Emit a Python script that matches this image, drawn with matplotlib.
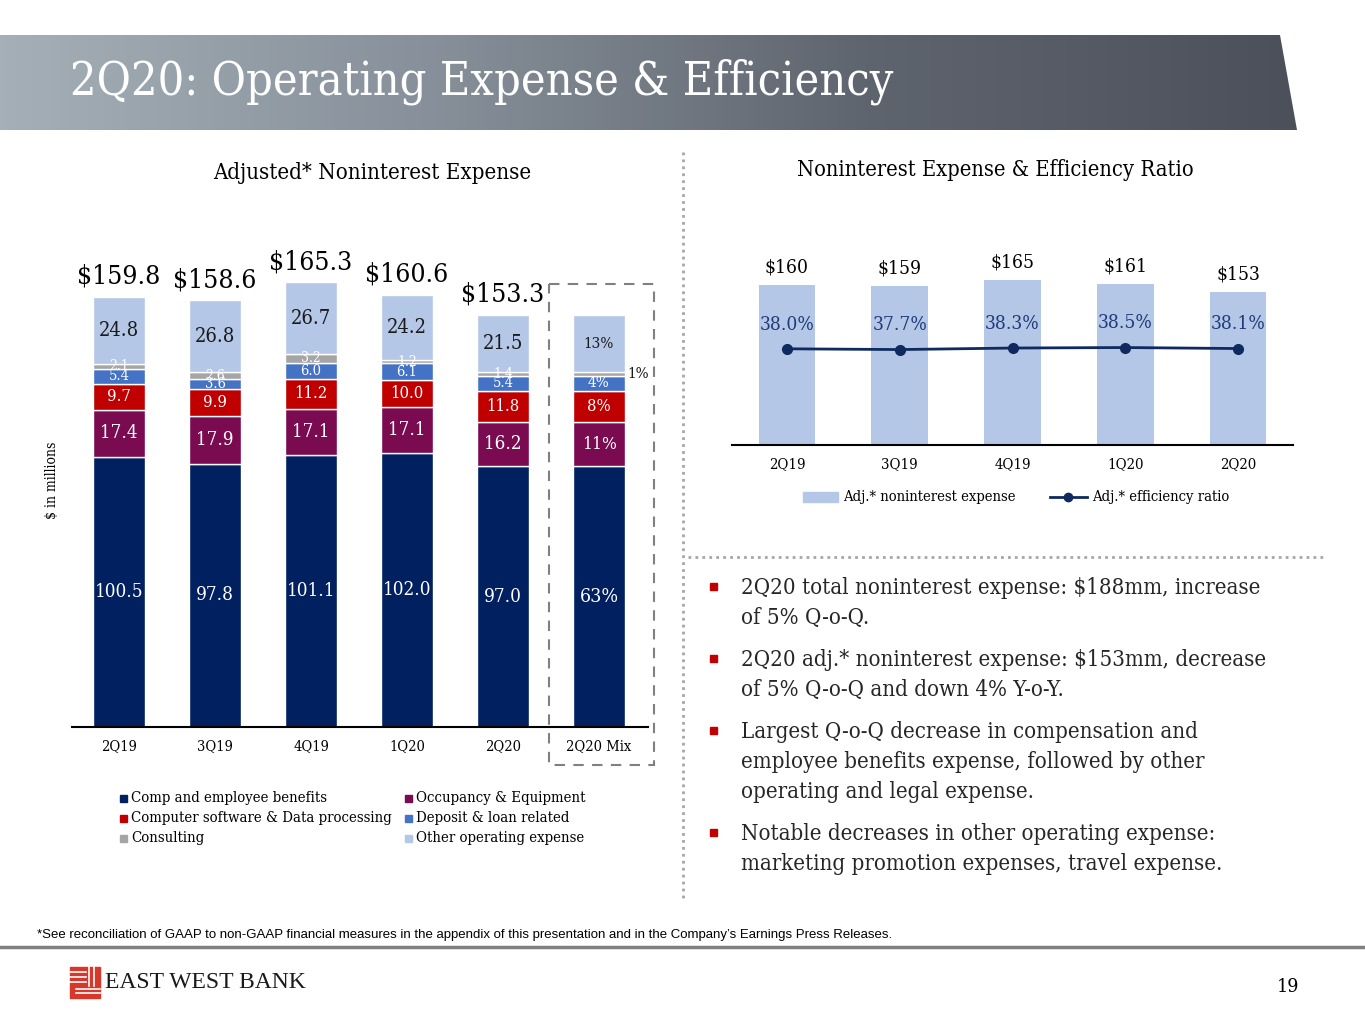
import numpy as np
import matplotlib.pyplot as plt
from matplotlib.patches import Rectangle, Polygon
from matplotlib.colors import LinearSegmentedColormap

plt.rcParams['font.family'] = ['DejaVu Serif Condensed', 'DejaVu Serif']
plt.rcParams['font.stretch'] = 'condensed'

# ---- data ----
quarters = ['2Q19', '3Q19', '4Q19', '1Q20', '2Q20']
mix_name = '2Q20 Mix'
comp = [100.5, 97.8, 101.1, 102.0, 97.0]
occupancy = [17.4, 17.9, 17.1, 17.1, 16.2]
software = [9.7, 9.9, 11.2, 10.0, 11.8]
deposit = [5.4, 3.6, 6.0, 6.1, 5.4]
consulting = [2.1, 2.6, 3.2, 1.2, 1.4]
other = [24.8, 26.8, 26.7, 24.2, 21.5]
totals = [159.8, 158.6, 165.3, 160.6, 153.3]
mix_pct = ['63%', '11%', '8%', '4%', '1%', '13%']

series_names = ['Comp and employee benefits', 'Occupancy & Equipment',
                'Computer software & Data processing', 'Deposit & loan related',
                'Consulting', 'Other operating expense']
series_colors = ['#002060', '#7A0B50', '#C00000', '#4472C4', '#A5A5A5', '#B4C7E7']

adj_expense = [160, 159, 165, 161, 153]
eff_ratio = [38.0, 37.7, 38.3, 38.5, 38.1]

W, H = 1365, 1024
fig = plt.figure(figsize=(W / 100, H / 100), dpi=100)


def rect(x0, y0, x1, y1):
    # pixel box (top-left origin) -> figure fraction
    return [x0 / W, 1 - y1 / H, (x1 - x0) / W, (y1 - y0) / H]


# background / decoration layer in pixel coordinates
bg = fig.add_axes([0, 0, 1, 1], zorder=0)
grad = np.linspace(0, 1, 400).reshape(1, -1)
cmap = LinearSegmentedColormap.from_list('ban', ['#A4AFB7', '#87909A', '#5F656F', '#4C505A'])
im = bg.imshow(grad, extent=[0, 1297, 130, 35], aspect='auto', cmap=cmap)
banner = Polygon([(0, 35), (1280, 35), (1297, 130), (0, 130)], closed=True,
                 facecolor='none', edgecolor='none')
bg.add_patch(banner)
im.set_clip_path(banner)
bg.set_xlim(0, W)
bg.set_ylim(H, 0)
bg.axis('off')

bg.text(70, 82, '2Q20: Operating Expense & Efficiency', color='white',
        fontsize=33.5, va='center', ha='left')

# section titles
bg.text(372, 173, 'Adjusted* Noninterest Expense', fontsize=15.9, ha='center', va='center')
bg.text(995, 170, 'Noninterest Expense & Efficiency Ratio', fontsize=15.7, ha='center', va='center')

# dividers
bg.plot([683, 683], [152, 900], color='#A6A6A6', lw=2, ls=(0, (1, 1.5)))
bg.plot([688, 1325], [557, 557], color='#A6A6A6', lw=2, ls=(0, (1, 1.5)))

# dashed box around mix bar
bg.add_patch(Rectangle((549, 284), 105, 481, fill=False, edgecolor='#808080',
                       lw=1.5, ls=(0, (5, 4)), zorder=5))

bg.text(52, 480, '$ in millions', rotation=90, fontsize=10, ha='center', va='center')

# ---- left stacked bar chart ----
ax = fig.add_axes(rect(72, 240, 648, 727), zorder=2)
ax.patch.set_visible(False)
x = np.arange(6)
bottom = np.zeros(6)
label_sizes = [13.6, 13.5, 12, 10.5, 10, 14.5]
mix_sizes = [14, 12.5, 12, 11, 11, 11]
for i, (vals, col) in enumerate(zip([comp, occupancy, software, deposit, consulting, other],
                                    series_colors)):
    v = np.array(vals + [vals[-1]])
    ax.bar(x, v, 0.54, bottom=bottom, color=col, edgecolor='white', lw=1)
    txt_col = '#1A1A1A' if i == 5 else 'white'
    for j in range(6):
        yc = bottom[j] + v[j] / 2
        if j < 5:
            ax.text(x[j], yc, f'{vals[j]:.1f}', ha='center', va='center',
                    color=txt_col, fontsize=label_sizes[i])
        elif i == 4:
            ax.text(x[j] + 0.3, yc, mix_pct[i], ha='left', va='center',
                    color='#1A1A1A', fontsize=mix_sizes[i])
        else:
            ax.text(x[j], yc, mix_pct[i], ha='center', va='center', color=txt_col,
                    fontsize=mix_sizes[i])
    bottom += v

for j in range(5):
    ax.annotate(f'${totals[j]:.1f}', (x[j], bottom[j]), xytext=(0, 6),
                textcoords='offset points', ha='center', va='bottom', fontsize=19)

ax.set_xlim((72 - 119) / 96, (648 - 119) / 96)
ax.set_ylim(0, 487 / 2.69)
ax.set_xticks(x)
ax.set_xticklabels(quarters + [mix_name], fontsize=10.5)
ax.set_yticks([])
ax.tick_params(length=0, pad=9)
for s in ['left', 'right', 'top']:
    ax.spines[s].set_visible(False)
ax.spines['bottom'].set_linewidth(1.5)

# left legend (two columns)
leg_pos = [(120, 798), (405, 798), (120, 818), (405, 818), (120, 838), (405, 838)]
for (lx, ly), name, col in zip(leg_pos, series_names, series_colors):
    bg.add_patch(Rectangle((lx, ly - 3.5), 7, 7, color=col))
    bg.text(lx + 11, ly, name, fontsize=10.7, ha='left', va='center')

# ---- right bar + line chart ----
axr = fig.add_axes(rect(732, 245, 1293, 445), zorder=2)
axr.patch.set_visible(False)
xr = np.arange(5)
axr.bar(xr, adj_expense, 0.505, color='#B4C7E7')
for j in range(5):
    axr.annotate(f'${adj_expense[j]}', (xr[j], adj_expense[j]), xytext=(0, 6),
                 textcoords='offset points', ha='center', va='bottom', fontsize=13.8)
axr.set_xlim((732 - 787) / 112.75, (1293 - 787) / 112.75)
axr.set_ylim(0, 200)
axr.set_xticks(xr)
axr.set_xticklabels(quarters, fontsize=10.7)
axr.set_yticks([])
axr.tick_params(length=0, pad=9)
for s in ['left', 'right', 'top']:
    axr.spines[s].set_visible(False)
axr.spines['bottom'].set_linewidth(1.5)

axr2 = axr.twinx()
axr2.patch.set_visible(False)
axr2.plot(xr, eff_ratio, color='#0E2A5E', lw=2, marker='o', ms=7)
for j in range(5):
    axr2.annotate(f'{eff_ratio[j]:.1f}%', (xr[j], eff_ratio[j]), xytext=(0, 11),
                  textcoords='offset points', ha='center', va='bottom',
                  fontsize=13.8, color='#1F3C78')
axr2.set_ylim(0, 79)
axr2.set_yticks([])
for s in axr2.spines.values():
    s.set_visible(False)

# right legend
bg.add_patch(Rectangle((803, 492), 35, 10, color='#B4C7E7'))
bg.text(843, 497, 'Adj.* noninterest expense', fontsize=10.6, ha='left', va='center')
bg.plot([1050, 1087], [497, 497], color='#0E2A5E', lw=2)
bg.plot([1068], [497], marker='o', ms=6, color='#0E2A5E')
bg.text(1092, 497, 'Adj.* efficiency ratio', fontsize=10.6, ha='left', va='center')

# ---- bullet commentary ----
bullets = [
    ['2Q20 total noninterest expense: $188mm, increase', 'of 5% Q-o-Q.'],
    ['2Q20 adj.* noninterest expense: $153mm, decrease', 'of 5% Q-o-Q and down 4% Y-o-Y.'],
    ['Largest Q-o-Q decrease in compensation and',
     'employee benefits expense, followed by other', 'operating and legal expense.'],
    ['Notable decreases in other operating expense:',
     'marketing promotion expenses, travel expense.'],
]
y = 588
for lines in bullets:
    bg.add_patch(Rectangle((710, y - 5), 7, 7, color='#C00000'))
    for k, line in enumerate(lines):
        bg.text(741, y + 30 * k, line, fontsize=15.9, ha='left', va='center', color='#262626')
    y += 30 * len(lines) + 12

# ---- footer ----
bg.text(37, 935, '*See reconciliation of GAAP to non-GAAP financial measures in the appendix of '
        'this presentation and in the Company\u2019s Earnings Press Releases.',
        fontsize=9.5, ha='left', va='center', family=['Liberation Sans Narrow', 'Liberation Sans'])
bg.plot([0, W], [947, 947], color='#808080', lw=2.5)

bg.add_patch(Rectangle((70, 967), 30, 31, color='#D8382C'))
for yy in [972, 977, 982]:
    bg.plot([70, 86], [yy, yy], color='white', lw=1.2)
for xx in [89, 94]:
    bg.plot([xx, xx], [967, 986], color='white', lw=1.2)
for yy in [989, 993]:
    bg.plot([76, 100], [yy, yy], color='white', lw=1.2)
bg.text(105, 983, 'EAST WEST BANK', fontsize=17, ha='left', va='center',
        family=['Liberation Serif'], color='#1A1A1A')
bg.text(1288, 987, '19', fontsize=14, ha='center', va='center')

fig.savefig('out.png', dpi=100)
